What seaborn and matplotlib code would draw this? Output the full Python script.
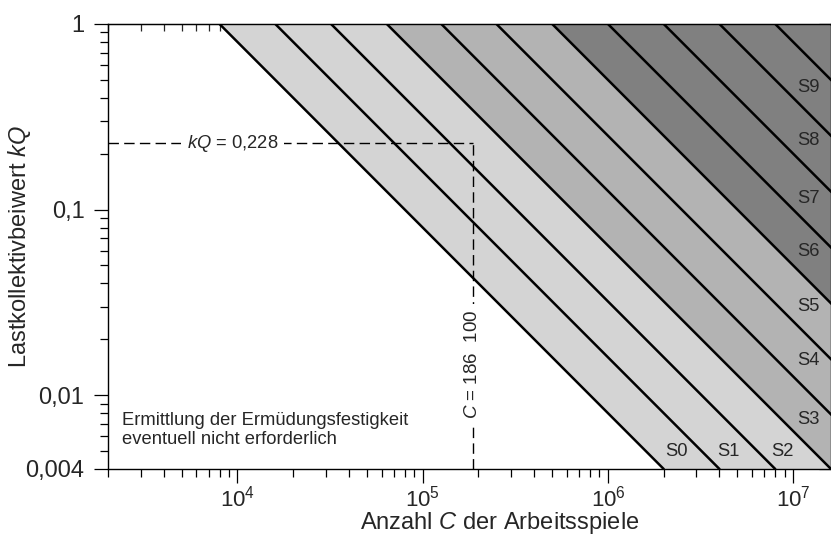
import numpy as np
import pandas as pd
import matplotlib
matplotlib.use("Agg")
import matplotlib.pyplot as plt
from matplotlib.ticker import FixedLocator, FixedFormatter, NullFormatter, LogLocator
import seaborn as sns

# Klassengrenzen s (EN 13001), s = kQ * C / C0
s_bounds = [0.004, 0.008, 0.016, 0.032, 0.063, 0.125, 0.25, 0.5, 1, 2, 4, 8]
C0 = 2e6
kq_ends = [1.0, 0.004]

# Schattierung: ab welcher Grenze welche Graustufe
shade_start = [0.004, 0.032, 0.25]
shade_colors = ["#d4d4d4", "#b3b3b3", "#808080"]

# Beschriftungen der Klassen
class_names = ["S0", "S1", "S2", "S3", "S4", "S5", "S6", "S7", "S8", "S9"]
bottom_label_C = [2.35e6, 4.46e6, 8.73e6]
right_label_kq = [0.0074, 0.0153, 0.0299, 0.0598, 0.115, 0.235, 0.456]

# Beispielpunkt
C_mark = 186100
kq_mark = 0.228

y_ticks = [0.004, 0.01, 0.1, 1]
y_ticklabels = ["0,004", "0,01", "0,1", "1"]
x_ticks = [1e4, 1e5, 1e6, 1e7]

sns.set_style("ticks")
plt.rcParams["font.family"] = ["Liberation Sans", "DejaVu Sans"]
plt.rcParams["mathtext.fontset"] = "custom"
plt.rcParams["mathtext.rm"] = "Liberation Sans"
plt.rcParams["mathtext.it"] = "Liberation Sans:italic"

fig = plt.figure(figsize=(8.31, 5.35), dpi=100)
ax = fig.add_axes([108 / 831, 66 / 535, 723 / 831, 445 / 535])
ax.set_xscale("log")
ax.set_yscale("log")

# Flaechen
for s, col in zip(shade_start, shade_colors):
    xs = [s * C0 / kq_ends[0], s * C0 / kq_ends[1], 1e10, 1e10]
    ys = [kq_ends[0], kq_ends[1], kq_ends[1], kq_ends[0]]
    ax.fill(xs, ys, color=col, lw=0, zorder=1)

# Grenzlinien
rows = []
for s in s_bounds:
    for kq in kq_ends:
        rows.append({"s": s, "C": s * C0 / kq, "kQ": kq})
df_lines = pd.DataFrame(rows)
sns.lineplot(data=df_lines, x="C", y="kQ", units="s", estimator=None,
             color="black", lw=1.8, ax=ax, legend=False, zorder=2)

ax.set_xlim(2000, 1.6e7)
ax.set_ylim(0.004, 1)

# Beispiel gestrichelt
dash = (0, (7.5, 3.8))
ax.plot([2000, C_mark], [kq_mark, kq_mark], color="black", lw=1.0, ls=dash, zorder=3)
ax.plot([C_mark, C_mark], [0.004, kq_mark], color="black", lw=1.0, ls=dash, zorder=3)
box = dict(boxstyle="square,pad=0.3", fc="white", ec="none")
ax.text(9380, kq_mark, "$kQ$ = 0,228", fontsize=13.2, ha="center", va="center",
        bbox=box, zorder=4)
ax.text(C_mark, 0.0147, "$C$ = 186  100", fontsize=13.5, ha="center", va="center",
        rotation=90, bbox=box, zorder=4)

ax.text(2380, 0.00648, "Ermittlung der Ermüdungsfestigkeit\neventuell nicht erforderlich",
        fontsize=13.2, ha="left", va="center", zorder=4)

for name, c in zip(class_names[:3], bottom_label_C):
    ax.text(c, 0.0050, name, fontsize=13.2, ha="center", va="center", zorder=4)
for name, kq in zip(class_names[3:], right_label_kq):
    ax.text(1.39e7, kq, name, fontsize=13.2, ha="right", va="center", zorder=4)

# Achsen
ax.xaxis.set_major_locator(FixedLocator(x_ticks))
ax.yaxis.set_major_locator(FixedLocator(y_ticks))
ax.yaxis.set_major_formatter(FixedFormatter(y_ticklabels))
ax.yaxis.set_minor_locator(LogLocator(subs=np.arange(2, 10)))
ax.xaxis.set_minor_locator(LogLocator(subs=np.arange(2, 10)))
ax.yaxis.set_minor_formatter(NullFormatter())
ax.xaxis.set_minor_formatter(NullFormatter())
ax.tick_params(which="major", direction="out", length=10, width=0.9, color="black")
ax.tick_params(which="minor", direction="out", length=5.5, width=0.9, color="black")
ax.tick_params(axis="y", which="major", pad=7, labelsize=17)
ax.tick_params(axis="x", which="major", pad=2, labelsize=16)
for sp in ax.spines.values():
    sp.set_linewidth(1.0)
    sp.set_color("black")
    sp.set_zorder(5)

top = ax.secondary_xaxis("top")
top.xaxis.set_major_locator(FixedLocator(x_ticks))
top.xaxis.set_minor_locator(LogLocator(subs=np.arange(2, 10)))
top.xaxis.set_major_formatter(NullFormatter())
top.xaxis.set_minor_formatter(NullFormatter())
top.tick_params(which="major", direction="in", length=9, width=0.9)
top.tick_params(which="minor", direction="in", length=5, width=0.9)

right = ax.secondary_yaxis("right")
right.yaxis.set_major_locator(FixedLocator(y_ticks))
right.yaxis.set_minor_locator(LogLocator(subs=np.arange(2, 10)))
right.yaxis.set_major_formatter(NullFormatter())
right.yaxis.set_minor_formatter(NullFormatter())
right.tick_params(which="major", direction="in", length=9, width=0.9)
right.tick_params(which="minor", direction="in", length=5, width=0.9)

ax.set_xlabel("Anzahl $C$ der Arbeitsspiele", fontsize=17)
ax.set_ylabel("Lastkollektivbeiwert $kQ$", fontsize=17)
ax.xaxis.set_label_coords(0.542, -0.093)
ax.yaxis.set_label_coords(-0.104, 0.5)

fig.savefig("out.png", dpi=100)
